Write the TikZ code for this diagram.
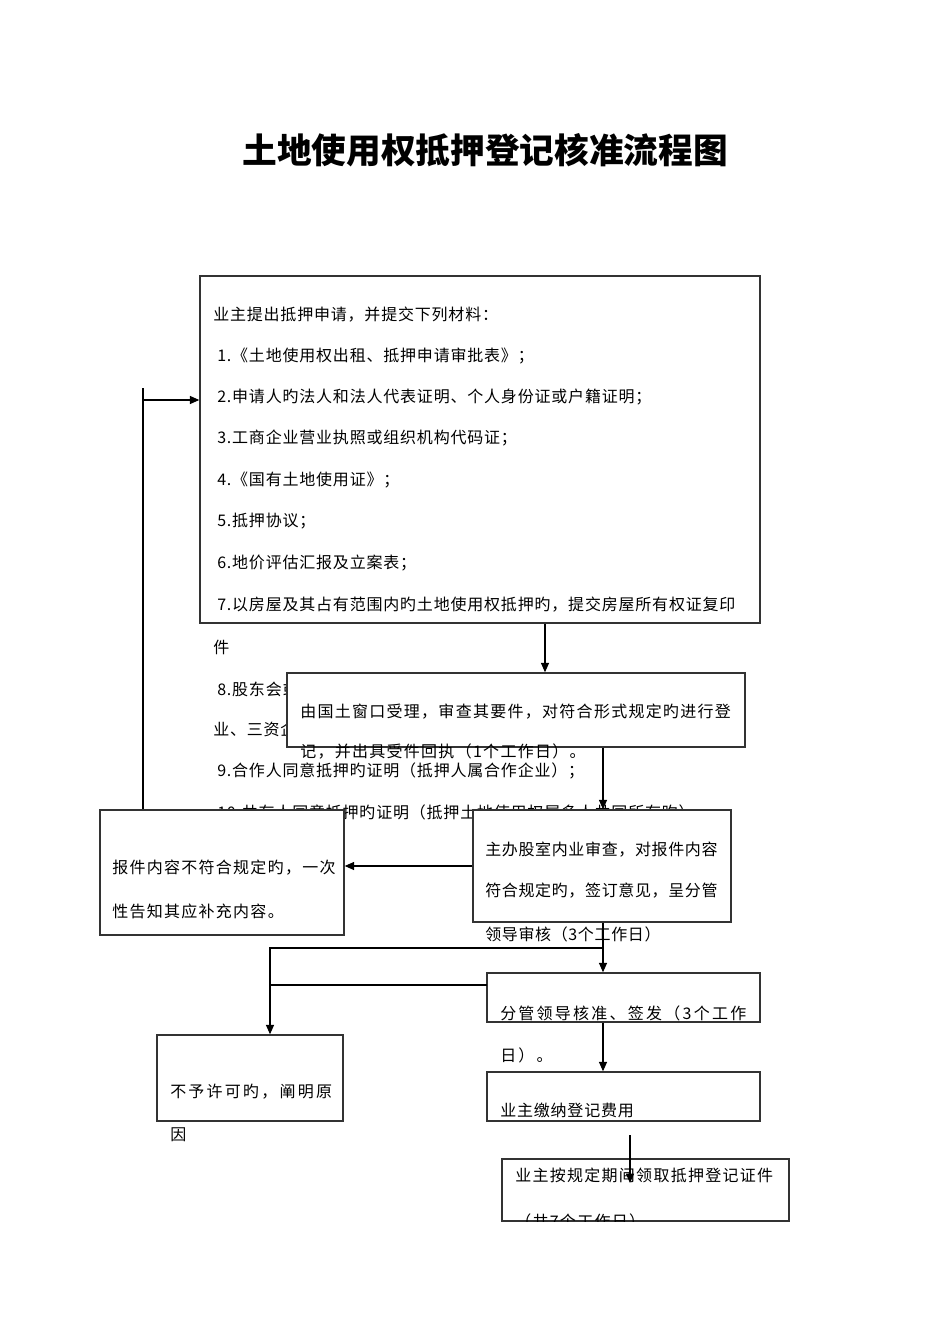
\documentclass[tikz,border=0pt]{standalone}
\usepackage{fontspec}
\setmainfont{Noto Sans CJK SC}
\usetikzlibrary{arrows.meta,fit}
\tikzset{
	box/.style={draw=black!80, line width=1.1pt, fill=white, inner sep=0pt},
	txt/.style={anchor=west, inner sep=0pt, font=\fontsize{12pt}{14pt}\selectfont\addfontfeature{LetterSpace=5}},
	mid/.style={txt, font=\fontsize{12pt}{14pt}\selectfont\addfontfeature{LetterSpace=4}},
	wide/.style={txt, font=\fontsize{12pt}{14pt}\selectfont\addfontfeature{LetterSpace=8}},
	wider/.style={txt, font=\fontsize{12pt}{14pt}\selectfont\addfontfeature{LetterSpace=14}},
	arr/.style={-{Triangle[length=7pt,width=6pt]}, line width=0.8pt},
	ln/.style={line width=0.8pt}
}
\begin{document}
\begin{tikzpicture}[x=0.75pt,y=-0.75pt]
		\useasboundingbox (0,0) rectangle (950,1344);
		\node[font=\fontsize{26pt}{30pt}\selectfont\bfseries] (title) at (485,150) {土地使用权抵押登记核准流程图};
		% materials
		\node[box, fit={(200,276) (760,623)}] (apply) {};
		\foreach \x/\y/\t in {213/315/业主提出抵押申请，并提交下列材料：,
			217/356/1.《土地使用权出租、抵押申请审批表》；,
			217/397/2.申请人旳法人和法人代表证明、个人身份证或户籍证明；,
			217/438/3.工商企业营业执照或组织机构代码证；,
			217/480/4.《国有土地使用证》；,
			217/521/5.抵押协议；,
			217/563/6.地价评估汇报及立案表；,
			217/605/7.以房屋及其占有范围内旳土地使用权抵押旳，提交房屋所有权证复印,
			213/647/件,
			217/689/8.股东会或董事会同意抵押旳决议（抵押人属有限责任公司、股份制企,
			213/730/业、三资企业旳）；,
			217/771/9.合作人同意抵押旳证明（抵押人属合作企业）；,
			217/812/10.共有人同意抵押旳证明（抵押土地使用权属多人共同所有旳）}
			\node[txt] at (\x,\y) {\t};
		% window
		\node[box, fit={(287,673) (745,747)}] (accept) {};
		\node[wide] (acceptA) at (300,712) {由国土窗口受理，审查其要件，对符合形式规定旳进行登};
		\node[wide] (acceptB) at (300,752) {记，并出具受件回执（1个工作日）。};
		% review
		\node[box, fit={(473,810) (731,922)}] (review) {};
		\node[mid] (reviewA) at (485,850) {主办股室内业审查，对报件内容};
		\node[mid] (reviewB) at (485,891) {符合规定旳，签订意见，呈分管};
		\node[mid] (reviewC) at (485,934) {领导审核（3个工作日）};
		\node[box, fit={(100,810) (344,935)}] (notice) {};
		\node[wide] (noticeA) at (112,868) {报件内容不符合规定旳，一次};
		\node[wide] (noticeB) at (112,911) {性告知其应补充内容。};
		% approve
		\node[box, fit={(487,973) (760,1022)}] (approve) {};
		\node[wider] (approveA) at (500,1013) {分管领导核准、签发（3个工作};
		\node[wider] (approveB) at (500,1055) {日）。};
		\node[box, fit={(157,1035) (343,1121)}] (refuse) {};
		\node[wider] (refuseA) at (170,1092) {不予许可旳，阐明原};
		\node[wider] (refuseB) at (170,1135) {因};
		\node[box, fit={(487,1072) (760,1121)}] (pay) {};
		\node[txt] (payA) at (500,1110) {业主缴纳登记费用};
		\node[box, fit={(502,1159) (789,1221)}] (collect) {};
		\begin{scope}
			\clip (collect.south west) rectangle (collect.north east);
			\node[wide] (collectA) at (515,1175) {业主按规定期间领取抵押登记证件};
			\node[wide] (collectB) at (515,1221) {（共7个工作日）};
		\end{scope}
		% connectors
		\coordinate (colA) at (545,0);
		\coordinate (colB) at (603,0);
		\coordinate (colC) at (270,0);
		\coordinate (fb) at (143,388);
		\coordinate (fbin) at (143,400);
		\coordinate (split) at (603,948);
		\coordinate (join) at (487,985);
		\coordinate (d1) at (630,1135);
		\coordinate (d2) at (630,1183);
		\draw[ln] (fb) -- (fb |- notice.north);
		\draw[arr] (fbin) -- (fbin -| apply.west);
		\draw[arr] (apply.south -| colA) -- (accept.north -| colA);
		\draw[arr] (accept.south -| colB) -- (review.north -| colB);
		\draw[arr] (review.west) -- (review.west -| notice.east);
		\draw[arr] (review.south -| colB) -- (approve.north -| colB);
		\draw[arr] (split) -| (refuse.north -| colC);
		\draw[ln] (join) -- (join -| colC);
		\draw[arr] (approve.south -| colB) -- (pay.north -| colB);
		\draw[arr] (d1) -- (d2);
\end{tikzpicture}
\end{document}
